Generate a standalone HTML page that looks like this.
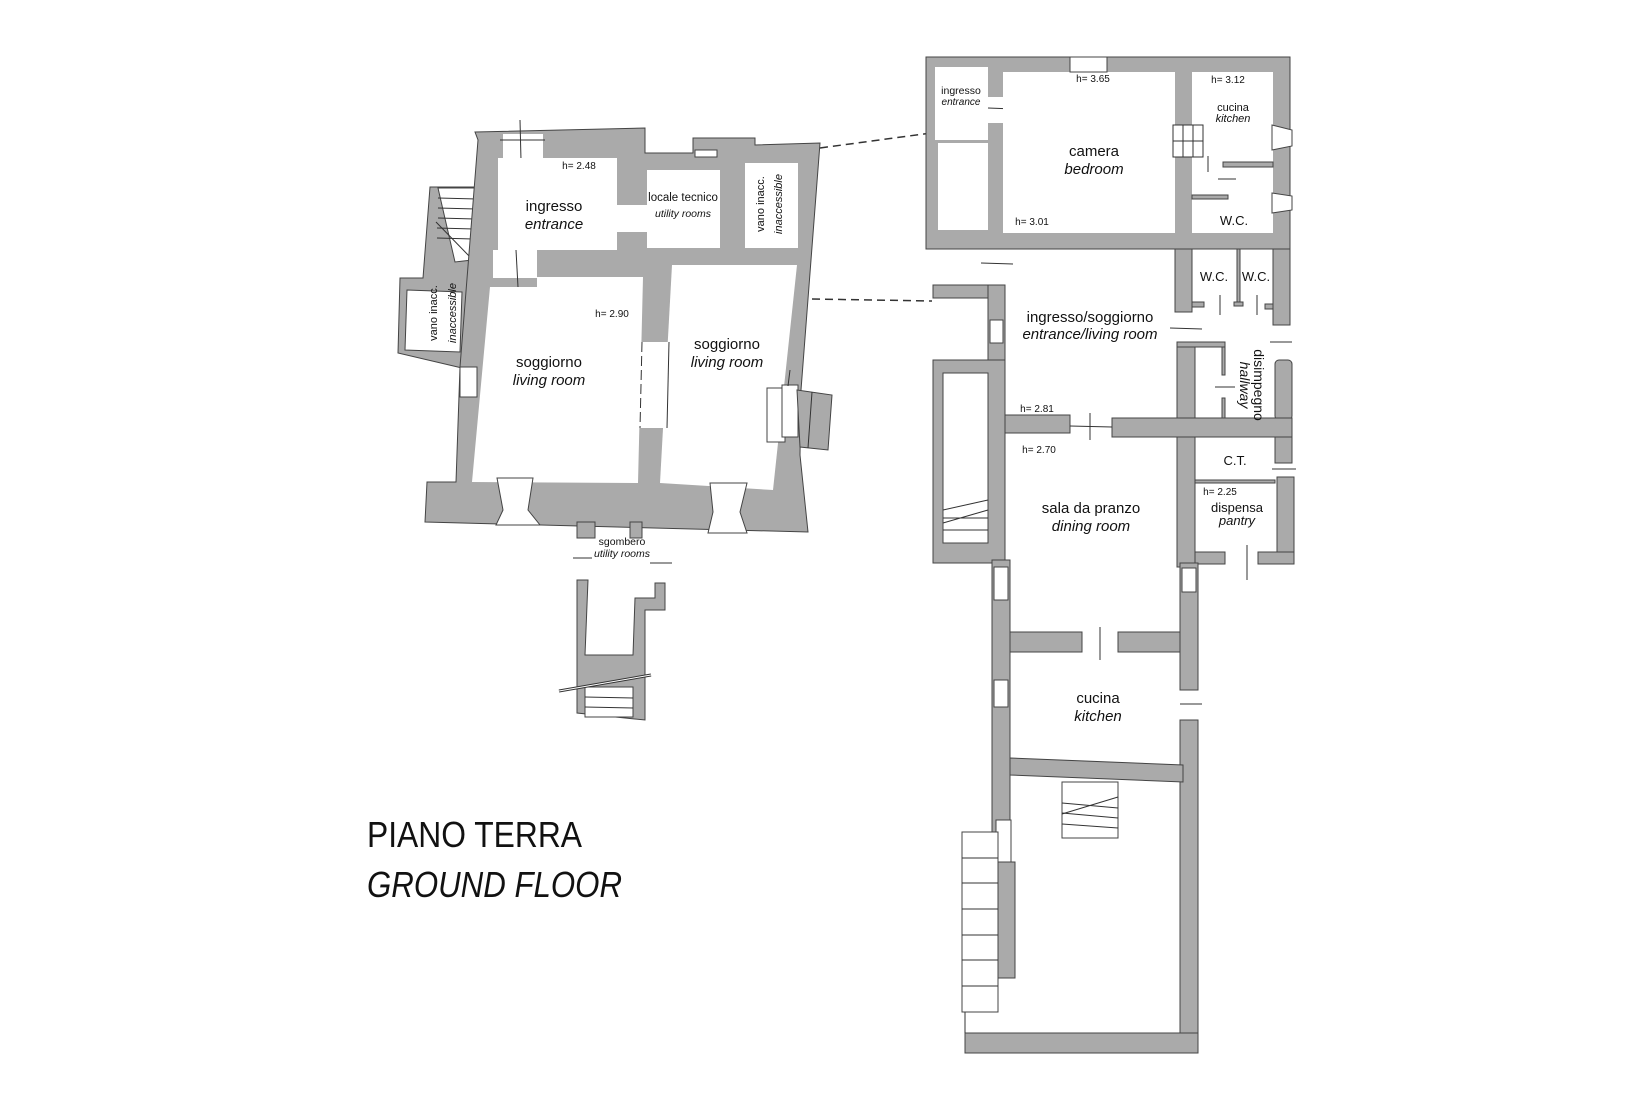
<!DOCTYPE html>
<html><head><meta charset="utf-8"><style>
html,body{margin:0;padding:0;background:#fff}
svg{display:block}
text{font-family:"Liberation Sans",sans-serif;fill:#111}
.g{fill:#aaa;stroke:#444;stroke-width:1}
.w{fill:#fff;stroke:#444;stroke-width:1}
.wn{fill:#fff;stroke:none}
.l{stroke:#333;stroke-width:1;fill:none}
.i{font-style:italic}
</style></head><body>
<svg width="1650" height="1100" viewBox="0 0 1650 1100" xmlns="http://www.w3.org/2000/svg">
<line x1="820" y1="148" x2="931" y2="133" stroke="#333" stroke-width="1.5" stroke-dasharray="8,5"/>
<line x1="812" y1="299" x2="932" y2="301" stroke="#333" stroke-width="1.5" stroke-dasharray="8,5"/>

<!-- LEFT BUILDING -->
<polygon class="g" points="430,187 480,187 462,368 398,353 400,278 423,278"/>
<polygon class="w" points="438,188 478,188 472,260 455,262"/>
<g class="l"><line x1="438" y1="198" x2="477" y2="199"/><line x1="438" y1="208" x2="476" y2="209"/><line x1="438" y1="218" x2="475" y2="219"/><line x1="437" y1="228" x2="474" y2="229"/><line x1="437" y1="238" x2="473" y2="239"/><line x1="436" y1="222" x2="471" y2="258"/></g>
<polygon class="w" points="407,290 462,292 460,352 405,350"/>
<polygon class="g" points="475,132 645,128 645,153 693,153 693,138 755,138 755,145 820,143 801,390 800,455 808,532 425,522 427,482 456,482 460,367 478,140"/>
<rect class="wn" x="503" y="134" width="40" height="24"/>
<line class="l" x1="520" y1="120" x2="521" y2="160"/>
<line class="l" x1="500" y1="140" x2="545" y2="140"/>
<rect class="wn" x="498" y="158" width="119" height="92"/>
<rect class="wn" x="493" y="250" width="44" height="28"/>
<rect class="wn" x="615" y="205" width="34" height="27"/>
<rect class="wn" x="647" y="170" width="73" height="78"/>
<rect class="w" x="695" y="150" width="22" height="7"/>
<rect class="wn" x="745" y="163" width="53" height="85"/>
<polygon class="wn" points="490,287 537,287 537,277 643,277 638,483 472,482"/>
<polygon class="wn" points="672,265 797,265 773,490 660,483"/>
<rect class="wn" x="638" y="342" width="34" height="86"/>
<line class="l" x1="642" y1="342" x2="640" y2="428" stroke-dasharray="10,4"/>
<line class="l" x1="669" y1="342" x2="667" y2="428"/>
<line class="l" x1="516" y1="250" x2="518" y2="287"/>
<rect class="w" x="460" y="367" width="17" height="30"/>
<polygon class="w" points="497,478 533,478 528,510 540,525 496,525 503,510"/>
<polygon class="w" points="710,483 747,483 740,512 747,533 708,533 713,512"/>
<rect class="w" x="767" y="388" width="18" height="54"/>
<rect class="w" x="782" y="385" width="16" height="52"/>
<polygon class="g" points="797,390 832,395 828,450 800,447"/>
<line class="l" x1="812" y1="392" x2="808" y2="448"/>
<line class="l" x1="790" y1="370" x2="788" y2="386"/>
<rect class="g" x="577" y="522" width="18" height="16"/>
<rect class="g" x="630" y="522" width="12" height="16"/>
<line class="l" x1="573" y1="558" x2="592" y2="558"/>
<line class="l" x1="650" y1="563" x2="672" y2="563"/>
<polygon class="g" points="577,580 588,580 585,655 633,655 635,598 655,598 655,583 665,583 665,610 645,610 645,720 577,713"/>
<rect class="w" x="585" y="687" width="48" height="30"/>
<g class="l"><line x1="585" y1="697" x2="633" y2="698"/><line x1="585" y1="707" x2="633" y2="708"/></g>
<line x1="559" y1="691" x2="651" y2="675" stroke="#333" stroke-width="3"/>
<line x1="559" y1="691" x2="651" y2="675" stroke="#fff" stroke-width="1"/>

<!-- RIGHT BUILDING -->
<rect class="g" x="926" y="57" width="364" height="192"/>
<rect class="wn" x="935" y="67" width="53" height="73"/>
<rect class="wn" x="938" y="143" width="50" height="87"/>
<rect class="wn" x="986" y="97" width="21" height="26"/>
<line class="l" x1="988" y1="108" x2="1014" y2="109"/>
<rect class="wn" x="1003" y="72" width="172" height="161"/>
<rect class="w" x="1070" y="57" width="37" height="15"/>
<rect class="wn" x="1192" y="72" width="81" height="161"/>
<rect class="g" x="1223" y="162" width="50" height="5"/>
<rect class="g" x="1192" y="195" width="36" height="4"/>
<line class="l" x1="1208" y1="156" x2="1208" y2="172"/>
<line class="l" x1="1218" y1="179" x2="1236" y2="179"/>
<g class="l"><rect x="1173" y="125" width="30" height="32" fill="#fff"/><line x1="1183" y1="125" x2="1183" y2="157"/><line x1="1193" y1="125" x2="1193" y2="157"/><line x1="1173" y1="141" x2="1203" y2="141"/></g>
<polygon class="w" points="1272,125 1292,130 1292,146 1272,150"/>
<polygon class="w" points="1272,193 1292,196 1292,210 1272,213"/>
<rect class="g" x="1175" y="249" width="17" height="63"/>
<rect class="g" x="1273" y="249" width="17" height="76"/>
<rect class="g" x="1237" y="249" width="3" height="55"/>
<rect class="g" x="1192" y="302" width="12" height="5"/>
<rect class="g" x="1234" y="302" width="9" height="4"/>
<rect class="g" x="1265" y="304" width="8" height="5"/>
<line class="l" x1="1220" y1="295" x2="1220" y2="315"/>
<line class="l" x1="1257" y1="295" x2="1257" y2="315"/>
<line class="l" x1="1170" y1="328" x2="1202" y2="329"/>
<line class="l" x1="1270" y1="342" x2="1292" y2="342"/>
<line class="l" x1="981" y1="263" x2="1013" y2="264"/>
<rect class="g" x="1177" y="342" width="18" height="95"/>
<rect class="g" x="1177" y="342" width="48" height="5"/>
<rect class="g" x="1222" y="347" width="3" height="28"/>
<rect class="g" x="1222" y="398" width="3" height="20"/>
<line class="l" x1="1215" y1="387" x2="1235" y2="387"/>
<rect class="g" x="1275" y="360" width="17" height="60" rx="4"/>
<rect class="g" x="933" y="285" width="72" height="13"/>
<rect class="g" x="988" y="285" width="17" height="78"/>
<rect class="w" x="990" y="320" width="13" height="23"/>
<rect class="g" x="933" y="360" width="72" height="203"/>
<rect class="w" x="943" y="373" width="45" height="170"/>
<g class="l"><line x1="943" y1="523" x2="988" y2="510"/><line x1="943" y1="530" x2="988" y2="530"/><line x1="943" y1="518" x2="988" y2="518"/><line x1="943" y1="510" x2="988" y2="500"/></g>
<rect class="g" x="1005" y="415" width="65" height="18"/>
<rect class="g" x="1112" y="418" width="180" height="19"/>
<line class="l" x1="1070" y1="426" x2="1112" y2="427"/>
<line class="l" x1="1090" y1="413" x2="1090" y2="440"/>
<rect class="g" x="1177" y="437" width="18" height="130"/>
<rect class="g" x="1275" y="437" width="17" height="26"/>
<rect class="g" x="1277" y="477" width="17" height="85"/>
<rect class="g" x="1195" y="480" width="80" height="3"/>
<rect class="g" x="1195" y="552" width="30" height="12"/>
<rect class="g" x="1258" y="552" width="36" height="12"/>
<line class="l" x1="1272" y1="469" x2="1296" y2="469"/>
<line class="l" x1="1247" y1="545" x2="1247" y2="580"/>
<rect class="g" x="992" y="560" width="18" height="302"/>
<rect class="g" x="998" y="862" width="17" height="116"/>
<rect class="w" x="994" y="567" width="14" height="33"/>
<rect class="w" x="994" y="680" width="14" height="27"/>
<rect class="w" x="996" y="820" width="15" height="42"/>
<rect class="g" x="1010" y="632" width="72" height="20"/>
<rect class="g" x="1118" y="632" width="62" height="20"/>
<line class="l" x1="1100" y1="627" x2="1100" y2="660"/>
<rect class="g" x="1180" y="563" width="18" height="127"/>
<rect class="w" x="1182" y="568" width="14" height="24"/>
<rect class="g" x="1180" y="720" width="18" height="333"/>
<line class="l" x1="1180" y1="704" x2="1202" y2="704"/>
<polygon class="g" points="1010,758 1183,765 1183,782 1010,775"/>
<rect class="g" x="965" y="1033" width="233" height="20"/>
<line class="l" x1="965" y1="1012" x2="965" y2="1033"/>
<rect class="w" x="962" y="832" width="36" height="180"/>
<g class="l"><line x1="962" y1="858" x2="998" y2="858"/><line x1="962" y1="883" x2="998" y2="883"/><line x1="962" y1="909" x2="998" y2="909"/><line x1="962" y1="935" x2="998" y2="935"/><line x1="962" y1="960" x2="998" y2="960"/><line x1="962" y1="986" x2="998" y2="986"/></g>
<rect class="w" x="1062" y="782" width="56" height="56"/>
<g class="l"><line x1="1062" y1="814" x2="1118" y2="797"/><line x1="1062" y1="813" x2="1118" y2="818"/><line x1="1062" y1="824" x2="1118" y2="828"/><line x1="1062" y1="803" x2="1118" y2="808"/></g>

<text x="579" y="169" font-size="10" text-anchor="middle">h= 2.48</text>
<text x="554" y="211" font-size="15" text-anchor="middle">ingresso</text>
<text x="554" y="229" font-size="15" text-anchor="middle" class="i">entrance</text>
<text x="683" y="201" font-size="11.5" text-anchor="middle">locale tecnico</text>
<text x="683" y="217" font-size="10.5" text-anchor="middle" class="i">utility rooms</text>
<text transform="translate(764,204) rotate(-90)" font-size="11" text-anchor="middle">vano inacc.</text>
<text transform="translate(782,204) rotate(-90)" font-size="11" text-anchor="middle" class="i">inaccessible</text>
<text transform="translate(437,313) rotate(-90)" font-size="11" text-anchor="middle">vano inacc.</text>
<text transform="translate(456,313) rotate(-90)" font-size="11" text-anchor="middle" class="i">inaccessible</text>
<text x="612" y="317" font-size="10" text-anchor="middle">h= 2.90</text>
<text x="549" y="367" font-size="15" text-anchor="middle">soggiorno</text>
<text x="549" y="385" font-size="15" text-anchor="middle" class="i">living room</text>
<text x="727" y="349" font-size="15" text-anchor="middle">soggiorno</text>
<text x="727" y="367" font-size="15" text-anchor="middle" class="i">living room</text>
<text x="622" y="545" font-size="10.5" text-anchor="middle">sgombero</text>
<text x="622" y="557" font-size="10.5" text-anchor="middle" class="i">utility rooms</text>
<text x="961" y="94" font-size="10.5" text-anchor="middle">ingresso</text>
<text x="961" y="105" font-size="10" text-anchor="middle" class="i">entrance</text>
<text x="1093" y="82" font-size="10" text-anchor="middle">h= 3.65</text>
<text x="1094" y="156" font-size="15" text-anchor="middle">camera</text>
<text x="1094" y="174" font-size="15" text-anchor="middle" class="i">bedroom</text>
<text x="1228" y="83" font-size="10" text-anchor="middle">h= 3.12</text>
<text x="1233" y="111" font-size="11" text-anchor="middle">cucina</text>
<text x="1233" y="122" font-size="11" text-anchor="middle" class="i">kitchen</text>
<text x="1234" y="225" font-size="13" text-anchor="middle">W.C.</text>
<text x="1032" y="225" font-size="10" text-anchor="middle">h= 3.01</text>
<text x="1214" y="281" font-size="13" text-anchor="middle">W.C.</text>
<text x="1256" y="281" font-size="13" text-anchor="middle">W.C.</text>
<text x="1090" y="322" font-size="15" text-anchor="middle">ingresso/soggiorno</text>
<text x="1090" y="339" font-size="15" text-anchor="middle" class="i">entrance/living room</text>
<text transform="translate(1254,385) rotate(90)" font-size="14" text-anchor="middle">disimpegno</text>
<text transform="translate(1240,385) rotate(90)" font-size="14" text-anchor="middle" class="i">hallway</text>
<text x="1037" y="412" font-size="10" text-anchor="middle">h= 2.81</text>
<text x="1039" y="453" font-size="10" text-anchor="middle">h= 2.70</text>
<text x="1235" y="465" font-size="13" text-anchor="middle">C.T.</text>
<text x="1220" y="495" font-size="10" text-anchor="middle">h= 2.25</text>
<text x="1237" y="512" font-size="13" text-anchor="middle">dispensa</text>
<text x="1237" y="525" font-size="13" text-anchor="middle" class="i">pantry</text>
<text x="1091" y="513" font-size="15" text-anchor="middle">sala da pranzo</text>
<text x="1091" y="531" font-size="15" text-anchor="middle" class="i">dining room</text>
<text x="1098" y="703" font-size="15" text-anchor="middle">cucina</text>
<text x="1098" y="721" font-size="15" text-anchor="middle" class="i">kitchen</text>
<text x="367" y="847" font-size="36" textLength="215" lengthAdjust="spacingAndGlyphs">PIANO TERRA</text>
<text x="367" y="897" font-size="36" class="i" textLength="255" lengthAdjust="spacingAndGlyphs">GROUND FLOOR</text>
</svg>
</body></html>
